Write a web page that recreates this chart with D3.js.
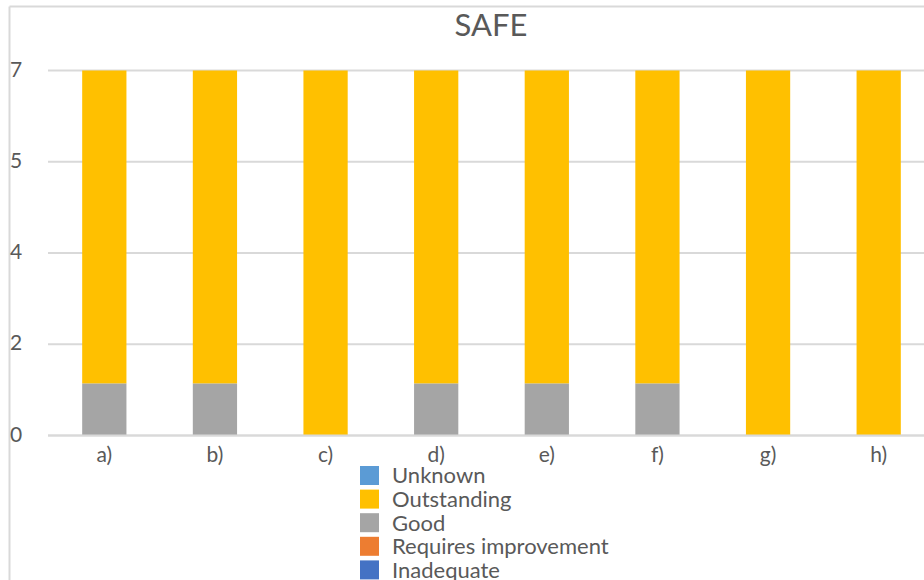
<!DOCTYPE html>
<html>
<head>
<meta charset="utf-8">
<script src="https://cdn.jsdelivr.net/npm/d3@7"></script>
<style>
  html, body { margin: 0; padding: 0; background: #fff; }
  svg { display: block; font-family: Lato, "Open Sans", sans-serif; }
</style>
</head>
<body>
<svg id="chart" width="924" height="580"></svg>
<script>
// Ratings per site, stacked bottom to top
const categories = ["a)", "b)", "c)", "d)", "e)", "f)", "g)", "h)"];
const inadequate = [0, 0, 0, 0, 0, 0, 0, 0];
const requiresImprovement = [0, 0, 0, 0, 0, 0, 0, 0];
const good = [1, 1, 0, 1, 1, 1, 0, 0];
const outstanding = [6, 6, 7, 6, 6, 6, 7, 7];
const unknown = [0, 0, 0, 0, 0, 0, 0, 0];
const yTicks = [0, 1.75, 3.5, 5.25, 7];

const seriesNames = ["Inadequate", "Requires improvement", "Good", "Outstanding", "Unknown"];
const seriesValues = [inadequate, requiresImprovement, good, outstanding, unknown];
const colors = {
  "Unknown": "#5B9BD5",
  "Outstanding": "#FFC000",
  "Good": "#A5A5A5",
  "Requires improvement": "#ED7D31",
  "Inadequate": "#4472C4"
};

const rows = categories.map((c, i) => {
  const r = { cat: c };
  seriesNames.forEach((s, k) => { r[s] = seriesValues[k][i]; });
  return r;
});

const svg = d3.select("#chart");
const textColor = "#595959";
const lineColor = "#d9d9d9";

// chart frame (only top and left edges fall inside the view)
svg.append("line").attr("x1", 9.5).attr("x2", 924).attr("y1", 6.5).attr("y2", 6.5)
  .attr("stroke", lineColor).attr("stroke-width", 2);
svg.append("line").attr("x1", 9.5).attr("x2", 9.5).attr("y1", 6.5).attr("y2", 580)
  .attr("stroke", lineColor).attr("stroke-width", 2);

const x = d3.scaleBand().domain(categories).range([49, 934])
  .paddingInner(0.6).paddingOuter(0.3);
const y = d3.scaleLinear().domain([0, 7]).range([435.5, 70.5]);

// gridlines
svg.append("g").selectAll("line").data(yTicks).join("line")
  .attr("x1", 48).attr("x2", 924)
  .attr("y1", d => y(d)).attr("y2", d => y(d))
  .attr("stroke", lineColor).attr("stroke-width", 2);

// y labels
svg.append("g").selectAll("text").data(yTicks).join("text")
  .attr("x", 10).attr("y", d => y(d) - 1.5)
  .attr("dy", "0.36em")
  .attr("fill", textColor).attr("font-size", 21)
  .text(d => Math.round(d));

// stacked bars
const stack = d3.stack().keys(seriesNames);
const stacked = stack(rows);
svg.append("g").selectAll("g").data(stacked).join("g")
  .attr("fill", d => colors[d.key])
  .selectAll("rect").data(d => d).join("rect")
  .attr("x", d => x(d.data.cat))
  .attr("width", x.bandwidth())
  .attr("y", d => y(d[1]))
  .attr("height", d => y(d[0]) - y(d[1]));

// baseline redrawn over bars
svg.append("line").attr("x1", 48).attr("x2", 924)
  .attr("y1", y(0)).attr("y2", y(0))
  .attr("stroke", lineColor).attr("stroke-width", 2);

// x labels
svg.append("g").selectAll("text").data(categories).join("text")
  .attr("x", d => x(d) + x.bandwidth() / 2)
  .attr("y", 462)
  .attr("text-anchor", "middle")
  .attr("fill", textColor).attr("font-size", 21)
  .text(d => d);

// title
svg.append("text").attr("x", 491).attr("y", 36)
  .attr("text-anchor", "middle")
  .attr("fill", textColor).attr("font-size", 31)
  .text("SAFE");

// legend
const legendOrder = ["Unknown", "Outstanding", "Good", "Requires improvement", "Inadequate"];
const lg = svg.append("g").selectAll("g").data(legendOrder).join("g")
  .attr("transform", (d, i) => `translate(360, ${475.5 + i * 23.6})`);
lg.append("rect").attr("x", 0).attr("y", -9.5).attr("width", 19).attr("height", 19)
  .attr("fill", d => colors[d]);
lg.append("text").attr("x", 32).attr("y", 0).attr("dy", "0.36em")
  .attr("fill", textColor).attr("font-size", 22)
  .text(d => d);
</script>
</body>
</html>
